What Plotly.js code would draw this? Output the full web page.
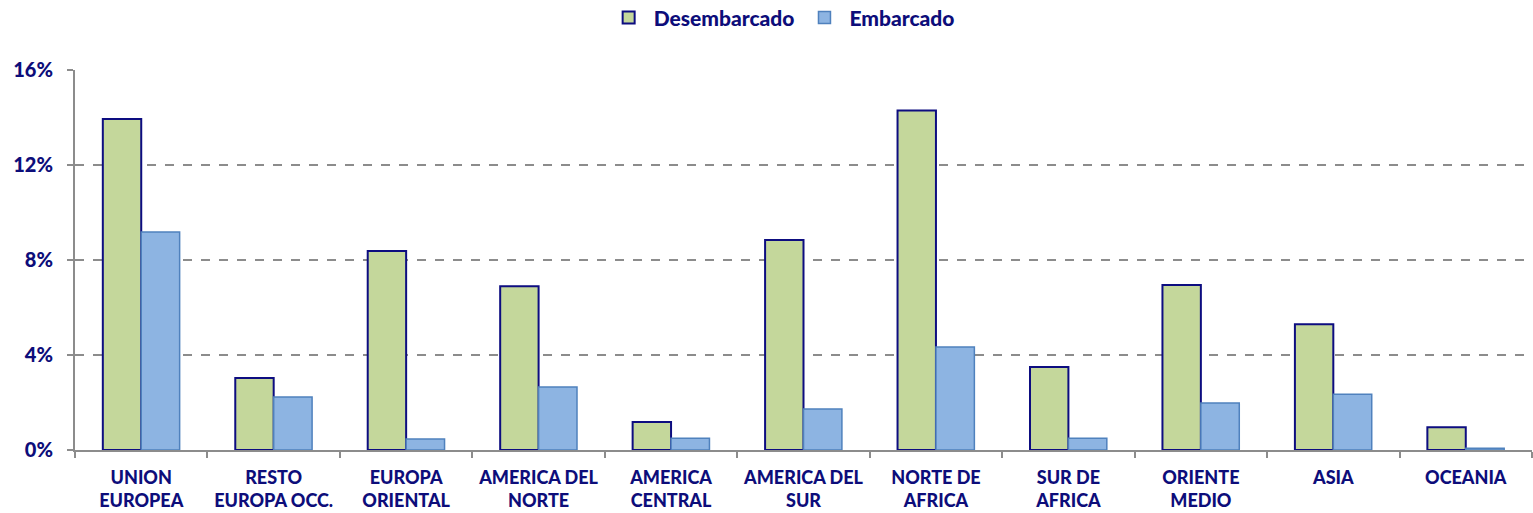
<!DOCTYPE html>
<html><head><meta charset="utf-8">
<script src="https://cdn.plot.ly/plotly-3.0.1.min.js"></script>
<style>html,body{margin:0;padding:0;background:#fff}#c{width:1533px;height:513px}</style>
</head><body><div id="c"></div>
<script>
const categories = ["UNION<br>EUROPEA","RESTO<br>EUROPA OCC.","EUROPA<br>ORIENTAL","AMERICA DEL<br>NORTE","AMERICA<br>CENTRAL","AMERICA DEL<br>SUR","NORTE DE<br>AFRICA","SUR DE<br>AFRICA","ORIENTE<br>MEDIO","ASIA","OCEANIA"];
const desembarcado = [13.94, 3.03, 8.38, 6.9, 1.18, 8.84, 14.3, 3.5, 6.95, 5.29, 0.96];
const embarcado = [9.18, 2.23, 0.46, 2.65, 0.5, 1.73, 4.34, 0.49, 1.98, 2.35, 0.07];
const yTicks = [0, 4, 8, 12, 16];

const navy = "#0d0d7a";
const fam = "Lato, 'Open Sans', sans-serif";
const fnt = {family: fam, size: 18, color: navy, weight: 900};

Plotly.newPlot("c", [
  {type: "bar", name: "Desembarcado", x: categories, y: desembarcado,
   marker: {color: "#c4d79b", line: {color: "#0d0d80", width: 2}}},
  {type: "bar", name: "Embarcado", x: categories, y: embarcado,
   marker: {color: "#8db4e2", line: {color: "#4f81bd", width: 1.5}}}
], {
  width: 1533, height: 513,
  margin: {l: 75, r: 1, t: 70, b: 63, autoexpand: false},
  barmode: "group", bargap: 0.42, bargroupgap: 0,
  paper_bgcolor: "#fff", plot_bgcolor: "#fff",
  font: fnt,
  showlegend: true,
  legend: {orientation: "h", x: 0.485, xanchor: "center", yref: "container", y: 0.965, yanchor: "middle",
           font: {family: fam, size: 21, color: navy, weight: 900},
           itemwidth: 40, traceorder: "normal"},
  xaxis: {type: "category", showline: true, linecolor: "#8c8c8c", linewidth: 2,
          ticks: "outside", tickson: "boundaries", ticklen: 6, tickcolor: "#8c8c8c", tickwidth: 2,
          ticklabelstandoff: 10,
          showgrid: false, tickfont: fnt, fixedrange: true},
  yaxis: {range: [0, 16], tickvals: yTicks, ticktext: yTicks.map(v => v + "%"),
          showline: true, linecolor: "#8c8c8c", linewidth: 2,
          ticks: "outside", ticklen: 6, tickcolor: "#8c8c8c", tickwidth: 2,
          ticklabelstandoff: 10,
          showgrid: true, gridcolor: "#8c8c8c", griddash: "dash", gridwidth: 1.5,
          zeroline: false, tickfont: {family: fam, size: 20, color: navy, weight: 900},
          fixedrange: true}
}, {displayModeBar: false, staticPlot: true});
</script></body></html>
